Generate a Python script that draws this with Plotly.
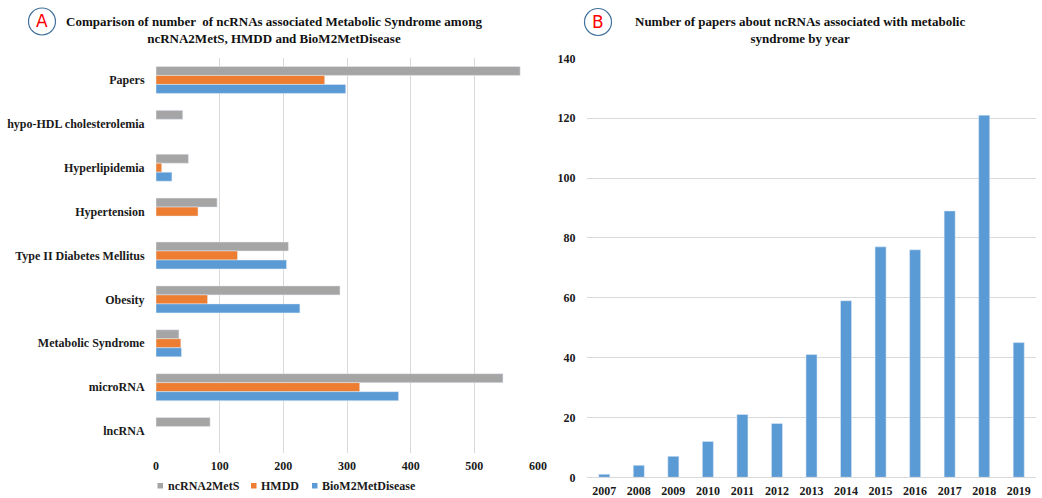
import plotly.graph_objects as go

# ---- Data: panel A ----
categories = ["Papers", "hypo-HDL cholesterolemia", "Hyperlipidemia", "Hypertension",
              "Type II Diabetes Mellitus", "Obesity", "Metabolic Syndrome", "microRNA", "lncRNA"]
ncrna2mets = [572, 42, 51, 96, 208, 289, 36, 545, 85]
hmdd = [265, None, 9, 66, 128, 81, 39, 320, None]
biom2met = [298, None, 25, None, 205, 226, 40, 381, None]
series_names = ["ncRNA2MetS", "HMDD", "BioM2MetDisease"]

# ---- Data: panel B ----
years = ["2007", "2008", "2009", "2010", "2011", "2012", "2013",
         "2014", "2015", "2016", "2017", "2018", "2019"]
papers_per_year = [1, 4, 7, 12, 21, 18, 41, 59, 77, 76, 89, 121, 45]

W, H = 1042, 498
def px(x): return x / W
def py(y): return 1 - y / H

SERIF = "Liberation Serif"
GRAY, ORANGE, BLUE = "#a5a5a5", "#ed7d31", "#5b9bd5"
COLORS = [GRAY, ORANGE, BLUE]
GRID = "#d9d9d9"
TXT = "#1a1a1a"

fig = go.Figure()
for nm, vals, col in zip(series_names, [ncrna2mets, hmdd, biom2met], COLORS):
    fig.add_trace(go.Bar(y=categories, x=vals, orientation="h", name=nm,
                         marker_color=col, xaxis="x", yaxis="y", showlegend=False))

fig.add_trace(go.Bar(x=years, y=papers_per_year, marker_color=BLUE, name="Papers",
                     xaxis="x2", yaxis="y2", showlegend=False, width=0.32))

tickfont = dict(family=SERIF, size=12, color=TXT, weight="bold")

fig.update_layout(
    width=W, height=H,
    margin=dict(l=0, r=0, t=0, b=0),
    paper_bgcolor="white", plot_bgcolor="white",
    barmode="group", bargap=0.385, bargroupgap=0,
    font=dict(family=SERIF, color=TXT),
    showlegend=False,
    xaxis=dict(domain=[px(156), px(538)], range=[0, 600], dtick=100,
               showgrid=True, gridcolor=GRID, gridwidth=1, zeroline=False,
               showline=False, tickfont=tickfont, ticks="outside", ticklen=2,
               tickcolor="rgba(0,0,0,0)", automargin=False, fixedrange=True),
    yaxis=dict(domain=[py(453), py(58)], autorange="reversed", type="category",
               showgrid=False, zeroline=False, showline=False, tickfont=tickfont,
               ticks="outside", ticklen=8, tickcolor="rgba(0,0,0,0)", automargin=False),
    xaxis2=dict(domain=[px(587), px(1036)], type="category", anchor="y2",
                showgrid=False, showline=True, linecolor=GRID, linewidth=1,
                tickfont=tickfont, ticks="outside", ticklen=2,
                tickcolor="rgba(0,0,0,0)", automargin=False),
    yaxis2=dict(domain=[py(477.3), py(58.3)], range=[0, 140], dtick=20, anchor="x2",
                showgrid=True, gridcolor=GRID, zeroline=False, showline=False,
                tickfont=tickfont, ticks="outside", ticklen=8,
                tickcolor="rgba(0,0,0,0)", automargin=False),
)

# custom legend (small square swatches as in the reference)
legend_font = dict(family=SERIF, size=12, color=TXT, weight="bold")
for nm, col, sx in zip(series_names, COLORS, [157.5, 251, 312]):
    fig.add_shape(type="rect", xref="paper", yref="paper",
                  x0=px(sx), x1=px(sx + 5.5), y0=py(488.5), y1=py(483),
                  line=dict(width=0), fillcolor=col)
    fig.add_annotation(x=px(sx + 8), y=py(486), xref="paper", yref="paper", text=nm,
                       showarrow=False, xanchor="left", yanchor="middle", font=legend_font)

title_font = dict(family=SERIF, size=13, color="#111111", weight="bold")
fig.add_annotation(x=px(274), y=py(30.5), xref="paper", yref="paper",
                   xanchor="center", yanchor="middle",
                   text="Comparison of number  of ncRNAs associated Metabolic Syndrome among<br>ncRNA2MetS, HMDD and BioM2MetDisease",
                   showarrow=False, font=title_font, align="center")
fig.add_annotation(x=px(800), y=py(30.5), xref="paper", yref="paper",
                   xanchor="center", yanchor="middle",
                   text="Number of papers about ncRNAs associated with metabolic<br>syndrome by year",
                   showarrow=False, font=title_font, align="center")

for cx, cy, letter in [(42, 21.5, "A"), (598, 22, "B")]:
    r = 13.5
    fig.add_shape(type="circle", xref="paper", yref="paper",
                  x0=px(cx - r), x1=px(cx + r), y0=py(cy + r), y1=py(cy - r),
                  line=dict(color="#41719c", width=1.2), fillcolor="white")
    fig.add_annotation(x=px(cx), y=py(cy), xref="paper", yref="paper", text=letter,
                       xanchor="center", yanchor="middle",
                       showarrow=False, font=dict(family="DejaVu Sans", size=17, color="#ff0000"))

fig.write_html("out.html")
